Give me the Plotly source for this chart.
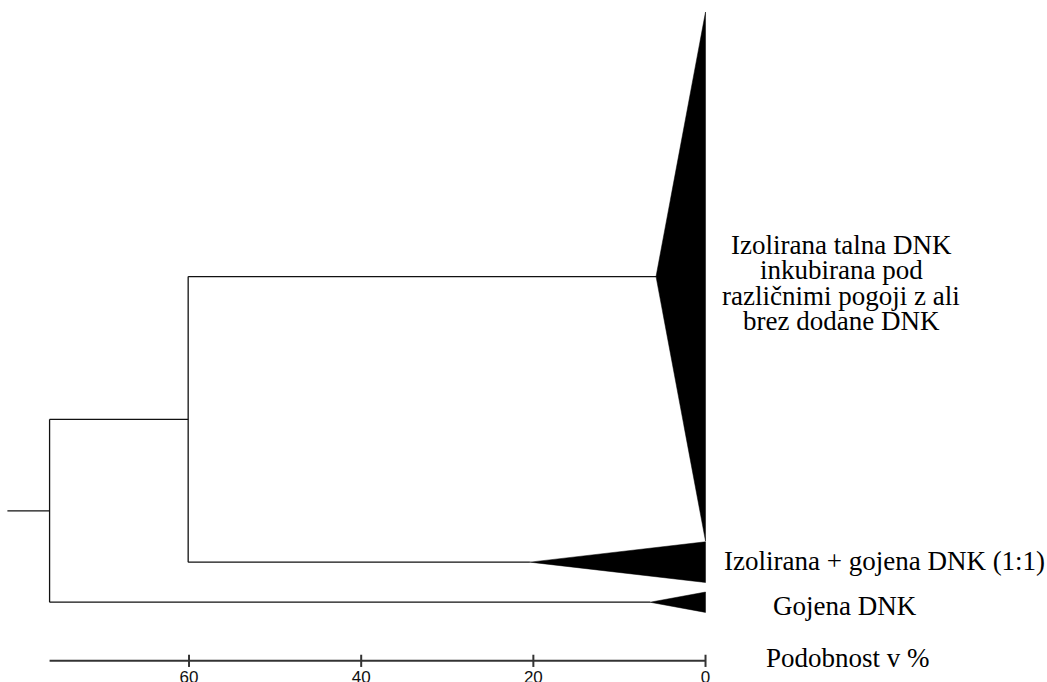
import plotly.graph_objects as go

# Clusters (top to bottom), their sizes and the similarity level at which each collapses
clusters = [
    ["Izolirana talna DNK", "inkubirana pod", "različnimi pogoji z ali", "brez dodane DNK"],
    ["Izolirana + gojena DNK (1:1)"],
    ["Gojena DNK"],
]
cluster_size = [26, 2, 1]
cluster_depth = [5.75, 20.4, 6.45]      # similarity (%) at the triangle apex
join_inner = 60.1                        # clusters 1 + 2
join_root = 76.2                         # (1 + 2) + 3
tick_values = [60, 40, 20, 0]
axis_title = "Podobnost v %"

# layout constants (vertical units = cluster members)
gaps = [0.0, 0.03, 0.47]
stem = 4.9
axis_y = 31.88
tick_half = 0.3

LINE = dict(color="#111111", width=1.3)

# vertical extent of every cluster
tops, bottoms = [], []
y = 0.0
for size, gap in zip(cluster_size, gaps):
    y += gap
    tops.append(y)
    y += size
    bottoms.append(y)
mids = [(t + b) / 2 for t, b in zip(tops, bottoms)]

y_inner = (mids[0] + mids[1]) / 2
y_root = (y_inner + mids[2]) / 2

fig = go.Figure()

# collapsed clusters as filled triangles
for t, b, m, d in zip(tops, bottoms, mids, cluster_depth):
    fig.add_trace(go.Scatter(
        x=[0, d, 0, 0], y=[t, m, b, t], mode="lines", fill="toself",
        fillcolor="black", line=dict(color="black", width=0.5),
        hoverinfo="skip", showlegend=False))

# dendrogram branches
bx = [join_inner, cluster_depth[0], None,
      join_inner, cluster_depth[1], None,
      join_inner, join_inner, None,
      join_root, join_inner, None,
      join_root, cluster_depth[2], None,
      join_root, join_root, None,
      join_root + stem, join_root]
by = [mids[0], mids[0], None,
      mids[1], mids[1], None,
      mids[0], mids[1], None,
      y_inner, y_inner, None,
      mids[2], mids[2], None,
      y_inner, mids[2], None,
      y_root, y_root]
fig.add_trace(go.Scatter(x=bx, y=by, mode="lines", line=LINE,
                         hoverinfo="skip", showlegend=False))

# similarity scale
ax_x = [join_root, 0]
ax_y = [axis_y, axis_y]
for tv in tick_values:
    ax_x += [None, tv, tv]
    ax_y += [None, axis_y - tick_half, axis_y + tick_half]
fig.add_trace(go.Scatter(x=ax_x, y=ax_y, mode="lines",
                         line=dict(color="#333333", width=2),
                         hoverinfo="skip", showlegend=False))
fig.add_trace(go.Scatter(
    x=tick_values, y=[axis_y + 0.9] * len(tick_values),
    text=[str(v) for v in tick_values], mode="text",
    textfont=dict(family="Liberation Sans, Arial", size=17, color="#111111"),
    textposition="middle center", hoverinfo="skip", showlegend=False))

SERIF = dict(family="Liberation Serif, Times New Roman", size=27, color="black")

# labels
annotations = []
block = clusters[0]
line_step = 1.24
first = 11.45
for i, txt in enumerate(block):
    annotations.append(dict(x=-15.74, y=first + i * line_step, text=txt,
                            xanchor="center", yanchor="middle",
                            showarrow=False, font=SERIF))
annotations.append(dict(x=-1.92, y=mids[1] - 0.05, text=clusters[1][0],
                        xanchor="left", yanchor="middle",
                        showarrow=False, font=SERIF))
annotations.append(dict(x=-16.2, y=mids[2] + 0.2, text=clusters[2][0],
                        xanchor="center", yanchor="middle",
                        showarrow=False, font=SERIF))
annotations.append(dict(x=-16.5, y=axis_y - 0.12, text=axis_title,
                        xanchor="center", yanchor="middle",
                        showarrow=False, font=SERIF))

fig.update_layout(
    width=1047, height=682,
    margin=dict(l=0, r=0, t=0, b=0),
    paper_bgcolor="white", plot_bgcolor="white",
    xaxis=dict(range=[81.96, -39.67], visible=False, fixedrange=True),
    yaxis=dict(range=[32.92, -0.59], visible=False, fixedrange=True),
    annotations=annotations,
)

fig.write_html("out.html")
